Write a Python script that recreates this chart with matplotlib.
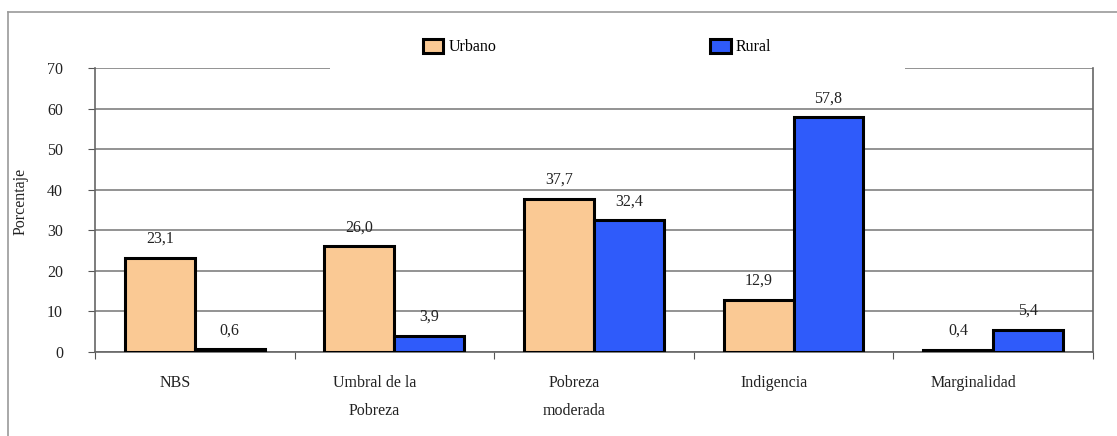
import matplotlib.pyplot as plt
import numpy as np
from matplotlib.patches import Rectangle
from matplotlib.lines import Line2D

categorias = ['NBS', 'Umbral de la\nPobreza', 'Pobreza\nmoderada', 'Indigencia', 'Marginalidad']
urbano = [23.1, 26.0, 37.7, 12.9, 0.4]
rural = [0.6, 3.9, 32.4, 57.8, 5.4]

plt.rcParams['font.family'] = ['Liberation Serif', 'DejaVu Serif']
fs = 11.5

fig = plt.figure(figsize=(11.17, 4.36), dpi=100)
ax = fig.add_axes([0.085, 0.193, 0.8935, 0.651])

x = np.arange(len(categorias))
w = 0.35
c_urb = '#FAC994'
c_rur = '#2F5BFA'
b1 = ax.bar(x - w/2, urbano, w, color=c_urb, edgecolor='black', linewidth=2.2, label='Urbano', zorder=3)
b2 = ax.bar(x + w/2, rural, w, color=c_rur, edgecolor='black', linewidth=2.2, label='Rural', zorder=3)

# etiquetas de valor
for bars, vals in [(b1, urbano), (b2, rural)]:
    for b, v in zip(bars, vals):
        ax.annotate(f'{v:.1f}'.replace('.', ','), (b.get_x() + b.get_width()/2, v),
                    xytext=(0, 8), textcoords='offset points', ha='center', va='bottom',
                    fontsize=fs, color='#222222')

ax.set_xlim(-0.5, 4.5)
ax.set_ylim(0, 70)
ax.set_yticks(range(0, 71, 10))
ax.tick_params(axis='y', length=5, width=0.8, color='#555555', pad=18, labelsize=fs, labelcolor='#222222')

# ticks en los bordes de grupo, etiquetas un poco corridas a la izquierda
ax.set_xticks(np.arange(-0.5, 5, 1))
ax.set_xticklabels([])
ax.tick_params(axis='x', which='major', length=5, width=0.8, color='#555555', direction='out')
ax.set_xticks(x - 0.1, minor=True)
ax.set_xticklabels(categorias, minor=True, fontsize=fs, color='#222222', linespacing=1.95)
ax.tick_params(axis='x', which='minor', length=0, pad=17)

ax.yaxis.grid(True, color='#8a8a8a', linewidth=1.3, zorder=0)
ax.set_axisbelow(True)
for s in ['left', 'right', 'bottom']:
    ax.spines[s].set_color('#666666')
    ax.spines[s].set_linewidth(1.2)
ax.spines['top'].set_visible(False)

ax.set_ylabel('Porcentaje', fontsize=fs, color='#222222')
ax.yaxis.set_label_coords(-0.066, 0.53)

# caja blanca de la leyenda que tapa la linea de 70
ax.add_patch(Rectangle((0.2355, 0.985), 0.576, 0.2, transform=ax.transAxes,
                       facecolor='white', edgecolor='none', zorder=5, clip_on=False))
leg = ax.legend(loc='center', bbox_to_anchor=(0.503, 1.074), ncol=2, frameon=False,
                fontsize=fs, handlelength=1.3, handleheight=1.0, handletextpad=0.3,
                columnspacing=13.4)
leg.set_zorder(6)

# marco exterior (solo izquierda y arriba visibles)
fig.add_artist(Line2D([8/1117, 8/1117], [0, 1 - 12/436], color='#9a9a9a', linewidth=1.2))
fig.add_artist(Line2D([8/1117, 1], [1 - 12/436, 1 - 12/436], color='#9a9a9a', linewidth=1.2))

fig.savefig('out.png', dpi=100)
